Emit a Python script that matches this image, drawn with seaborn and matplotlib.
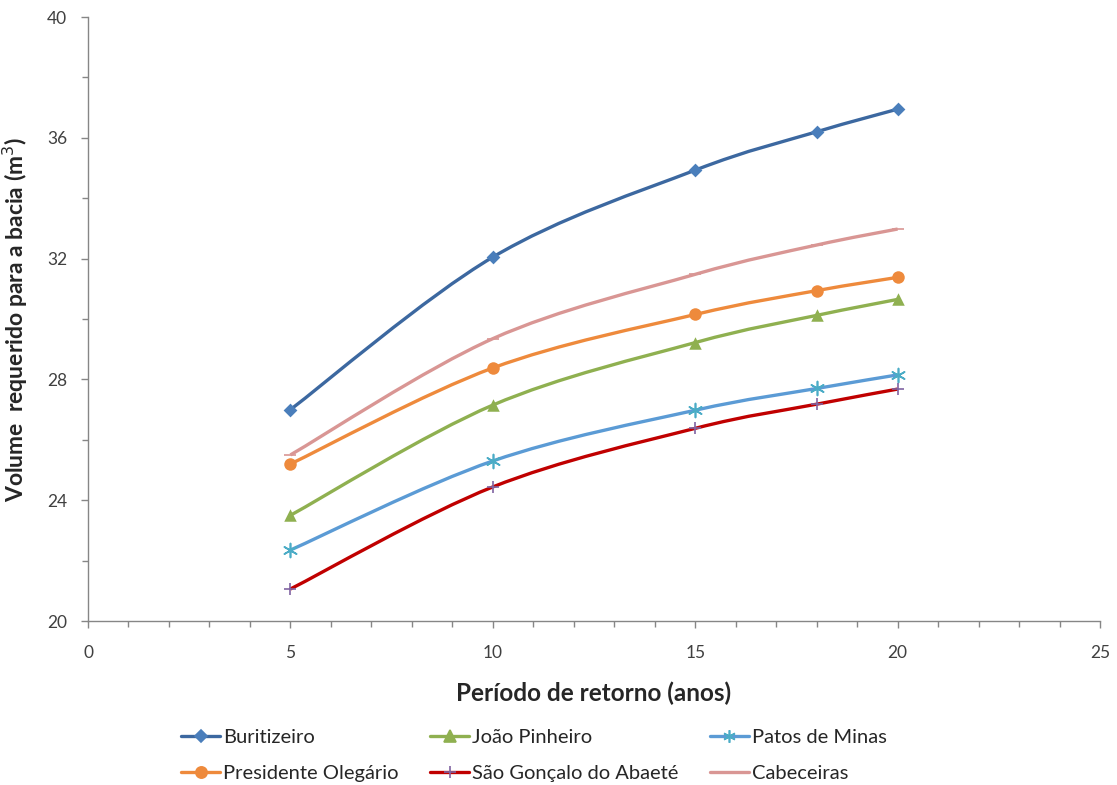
import numpy as np
import pandas as pd
import matplotlib
matplotlib.use("Agg")
import matplotlib.pyplot as plt
import seaborn as sns
from matplotlib.path import Path
from matplotlib.patches import PathPatch
from matplotlib.lines import Line2D
from matplotlib.ticker import MultipleLocator

periods = [5, 10, 15, 18, 20]
buritizeiro = [27.0, 32.05, 34.93, 36.2, 36.95]
joao_pinheiro = [23.5, 27.15, 29.22, 30.12, 30.65]
patos_de_minas = [22.35, 25.3, 26.98, 27.7, 28.15]
presidente_olegario = [25.2, 28.38, 30.15, 30.94, 31.38]
sao_goncalo = [21.06, 24.44, 26.38, 27.18, 27.68]
cabeceiras = [25.5, 29.35, 31.48, 32.45, 32.98]

names = ["Buritizeiro", "João Pinheiro", "Patos de Minas",
         "Presidente Olegário", "São Gonçalo do Abaeté", "Cabeceiras"]
series = [buritizeiro, joao_pinheiro, patos_de_minas,
          presidente_olegario, sao_goncalo, cabeceiras]

line_colors = ["#3C68A0", "#8FB050", "#5B9BD5", "#EE8A3C", "#C00000", "#D99694"]
marker_colors = ["#4A7EBB", "#8FB050", "#4BACC6", "#EE8A3C", "#8064A2", "#D99694"]
markers = ["D", "^", (6, 2, 0), "o", "+", "_"]
msizes = [7, 9, 10, 9, 9, 9]

sns.set_style("white")
plt.rcParams["font.family"] = ["Lato", "DejaVu Sans"]

fig = plt.figure(figsize=(11.17, 7.85), dpi=100)
ax = fig.add_axes([0.0788, 0.2089, 0.906, 0.7694])
ax.set_xlim(0, 25)
ax.set_ylim(20, 40)


def smooth_path(xs, ys):
    pts = np.column_stack([xs, ys]).astype(float)
    n = len(pts)
    verts = [pts[0]]
    codes = [Path.MOVETO]
    for i in range(n - 1):
        p0 = pts[i - 1] if i > 0 else pts[i]
        p1 = pts[i]
        p2 = pts[i + 1]
        p3 = pts[i + 2] if i + 2 < n else pts[i + 1]
        c1 = p1 + (p2 - p0) / 6.0
        c2 = p2 - (p3 - p1) / 6.0
        verts += [c1, c2, p2]
        codes += [Path.CURVE4] * 3
    return Path(verts, codes)


handles = []
for name, vals, lc, mc, mk, ms in zip(names, series, line_colors, marker_colors, markers, msizes):
    ax.add_patch(PathPatch(smooth_path(periods, vals), facecolor="none",
                           edgecolor=lc, lw=2.4, zorder=2))
    df = pd.DataFrame({"x": periods, "y": vals})
    if mk in ("+", "_"):
        ax.plot(df["x"], df["y"], linestyle="none", marker=mk, color=mc,
                markersize=ms, markeredgewidth=1.2, zorder=3)
    else:
        sns.scatterplot(data=df, x="x", y="y", ax=ax, marker=mk, color=mc,
                        s=ms ** 2, edgecolor=mc if mk != (6, 2, 0) else None,
                        linewidth=1.2 if mk == (6, 2, 0) else 0, zorder=3, legend=False)
    handles.append(Line2D([], [], color=lc, lw=2.4, marker=mk, markersize=ms * 0.9,
                          markerfacecolor=mc, markeredgecolor=mc, markeredgewidth=1.2))

for s in ["top", "right"]:
    ax.spines[s].set_visible(False)
for s in ["left", "bottom"]:
    ax.spines[s].set_color("#868686")
    ax.spines[s].set_linewidth(1.0)

ax.xaxis.set_major_locator(MultipleLocator(5))
ax.xaxis.set_minor_locator(MultipleLocator(1))
ax.yaxis.set_major_locator(MultipleLocator(4))
ax.yaxis.set_minor_locator(MultipleLocator(2))
ax.tick_params(axis="both", which="both", direction="out", color="#868686",
               labelcolor="#404040", labelsize=12.5, left=True, bottom=True)
ax.tick_params(axis="both", which="major", length=5, width=1)
ax.tick_params(axis="both", which="minor", length=4, width=1)
ax.tick_params(axis="x", pad=12)
ax.tick_params(axis="y", pad=10)

ax.set_xlabel("Período de retorno (anos)", fontsize=17.5, fontweight="bold", labelpad=15)
ax.set_ylabel("Volume  requerido para a bacia (m$^3$)", fontsize=16.5, fontweight="bold", labelpad=12)

# column-major order so rows read: B, JP, PM / PO, SG, Cab
order = [0, 3, 1, 4, 2, 5]
fig.legend([handles[i] for i in order], [names[i] for i in order],
           loc="lower center", bbox_to_anchor=(0.478, -0.019), ncol=3,
           frameon=False, fontsize=14.5, handlelength=1.9, handletextpad=0.15,
           columnspacing=1.6, labelspacing=0.95)

fig.savefig("out.png", dpi=100)
